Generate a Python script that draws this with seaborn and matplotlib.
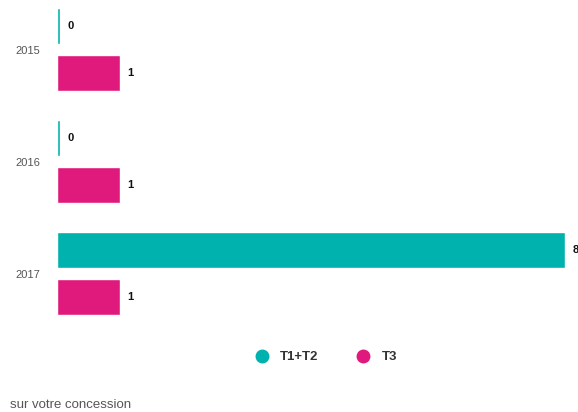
import numpy as np
import pandas as pd
import matplotlib.pyplot as plt
from matplotlib.lines import Line2D
import seaborn as sns

# data
years = ["2015", "2016", "2017"]
t1t2 = [0, 0, 8]
t3 = [1, 1, 1]
series = ["T1+T2", "T3"]
colors = ["#00b2ae", "#e0197d"]

df = pd.DataFrame({
    "year": years * 2,
    "serie": [series[0]] * 3 + [series[1]] * 3,
    "value": t1t2 + t3,
})
# zero bars are still drawn as a thin stub in the original
df["shown"] = np.maximum(df["value"], 0.06)

sns.set_style("white")
plt.rcParams["font.family"] = ["Liberation Sans", "DejaVu Sans"]

fig = plt.figure(figsize=(5.78, 4.12), dpi=100)
ax = fig.add_axes([56.5 / 578, 1 - 330 / 412, (578 - 56.5) / 578, 330 / 412])

sns.barplot(data=df, x="shown", y="year", hue="serie", orient="h",
            palette=colors, width=0.857, gap=0.25, saturation=1,
            legend=False, ax=ax)

for cont, vals in zip(ax.containers, [t1t2, t3]):
    ax.bar_label(cont, labels=[str(v) for v in vals], padding=5,
                 fontsize=8, fontweight="bold", color="#111111")

ax.set_xlim(0, (578 - 56.5) / 63.6)
ax.set_ylim(2 + (330 - 273.5) / 112, -49.5 / 112)
ax.set_xlabel("")
ax.set_ylabel("")
ax.set_xticks([])
ax.tick_params(axis="y", length=0, pad=12, labelsize=8, labelcolor="#555555")
sns.despine(ax=ax, left=True, bottom=True)

handles = [Line2D([0], [0], marker="o", linestyle="", markersize=9,
                  markerfacecolor=c, markeredgecolor=c) for c in colors]
leg = fig.legend(handles, series, loc="center", ncol=2,
                 bbox_to_anchor=(323 / 578, 1 - 357 / 412), frameon=False,
                 handletextpad=0.4, columnspacing=2.4,
                 prop={"size": 9.5, "weight": "bold"})
for t in leg.get_texts():
    t.set_color("#333333")

fig.text(10 / 578, 1 - 405 / 412, "sur votre concession", fontsize=9.5,
         color="#555555", va="center", ha="left")

fig.savefig("out.png", dpi=100)
